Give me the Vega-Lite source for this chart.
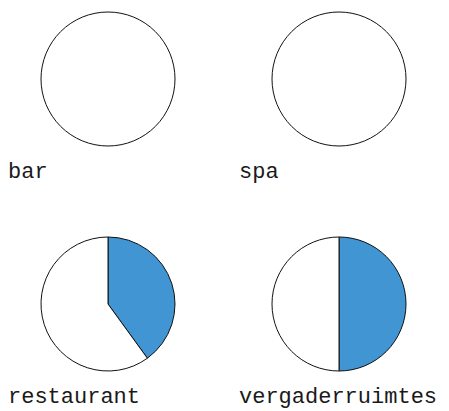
{
  "$schema": "https://vega.github.io/schema/vega-lite/v6.json",
  "padding": {"left": 8, "top": 10, "right": 0, "bottom": 2},
  "background": "white",
  "data": {
    "values": [
      {"name": "bar", "part": "rest", "value": 1, "ord": 1},
      {"name": "spa", "part": "rest", "value": 1, "ord": 1},
      {"name": "restaurant", "part": "share", "value": 0.4, "ord": 0},
      {"name": "restaurant", "part": "rest", "value": 0.6, "ord": 1},
      {"name": "vergaderruimtes", "part": "share", "value": 0.5, "ord": 0},
      {"name": "vergaderruimtes", "part": "rest", "value": 0.5, "ord": 1}
    ]
  },
  "facet": {
    "field": "name",
    "type": "nominal",
    "sort": ["bar", "spa", "restaurant", "vergaderruimtes"],
    "header": {
      "title": null,
      "labelOrient": "bottom",
      "labelAnchor": "start",
      "labelFont": "Liberation Mono",
      "labelFontSize": 22,
      "labelColor": "#1a1a1a",
      "labelPadding": 13
    }
  },
  "columns": 2,
  "spacing": {"column": 31, "row": 53},
  "spec": {
    "width": 200,
    "height": 136,
    "mark": {"type": "arc", "outerRadius": 67, "stroke": "#111111", "strokeWidth": 1},
    "encoding": {
      "theta": {"field": "value", "type": "quantitative", "stack": true},
      "order": {"field": "ord", "type": "quantitative"},
      "color": {
        "field": "part",
        "type": "nominal",
        "scale": {"domain": ["share", "rest"], "range": ["#4195d3", "#ffffff"]},
        "legend": null
      }
    }
  },
  "config": {"view": {"stroke": null}}
}
